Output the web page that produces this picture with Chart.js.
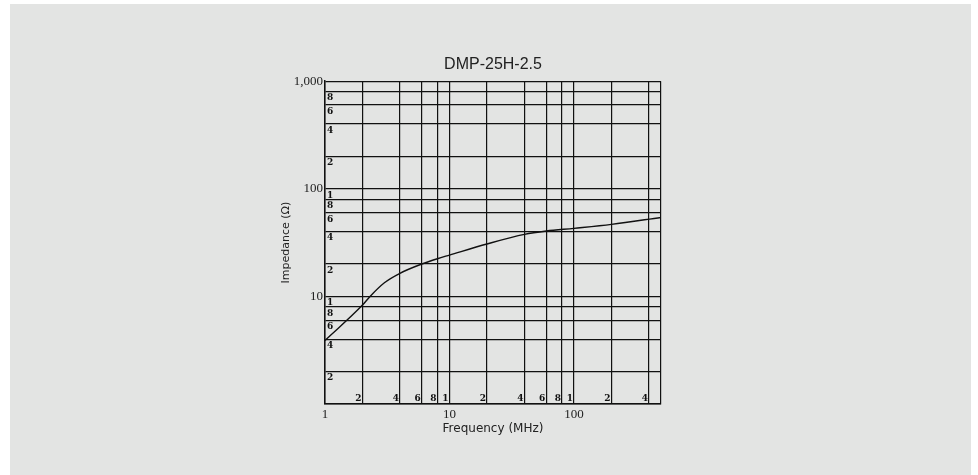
<!DOCTYPE html>
<html>
<head>
<meta charset="utf-8">
<script src="https://cdn.jsdelivr.net/npm/chart.js@4/dist/chart.umd.min.js"></script>
<style>
  body { margin: 0; background: #ffffff; }
  #bg { position: absolute; left: 10px; top: 4px; width: 961px; height: 471px; background: #e3e4e3; }
  #wrap { position: absolute; left: 0; top: 0; width: 978px; height: 475px; }
</style>
</head>
<body>
<div id="bg"></div>
<div id="wrap"><canvas id="impChart" width="978" height="475"></canvas></div>
<script>
// impedance curve
const freqMHz = [1, 2, 2.3, 3, 4, 6, 8, 10, 20, 40, 60, 100, 200, 500];
const impedance = [3.9, 8.3, 10.0, 13.4, 16.4, 20.0, 22.4, 24.2, 30.7, 37.7, 40.5, 42.9, 46.7, 54.2];

// grid lines (1-2-4-6-8 per decade)
const xGrid = [1, 2, 4, 6, 8, 10, 20, 40, 60, 80, 100, 200, 400, 500];
const yGrid = [1, 2, 4, 6, 8, 10, 20, 40, 60, 80, 100, 200, 400, 600, 800, 1000];
const xLabels = { 1: "1", 10: "10", 100: "100" };
const yLabels = { 10: "10", 100: "100", 1000: "1,000" };

// small digits printed inside the frame
const xMinor = [2, 4, 6, 8, 10, 20, 40, 60, 80, 100, 200, 400];
const yMinor = [2, 4, 6, 8, 10, 20, 40, 60, 80, 100, 200, 400, 600, 800];

function firstDigit(v) {
    return String(v).charAt(0);
}

const minorLabels = {
    id: "minorLabels",
    afterDatasetsDraw(chart) {
        const c = chart.ctx;
        const xs = chart.scales.x, ys = chart.scales.y;
        c.save();
        c.fillStyle = "#111";
        c.font = "bold 9px 'DejaVu Serif'";
        c.textAlign = "left";
        c.textBaseline = "top";
        yMinor.forEach(v => {
            c.fillText(firstDigit(v), xs.left + 2, ys.getPixelForValue(v) + 2);
        });
        c.textAlign = "right";
        c.textBaseline = "bottom";
        xMinor.forEach(v => {
            c.fillText(firstDigit(v), xs.getPixelForValue(v) - 1, ys.bottom - 1);
        });
        c.restore();
    }
};

const ctx = document.getElementById("impChart").getContext("2d");
let chart = new Chart(ctx, {
    type: "scatter",
    data: {
        datasets: [{
            label: "DMP-25H-2.5",
            data: freqMHz.map((f, i) => ({ x: f, y: impedance[i] })),
            showLine: true,
            borderColor: "#111",
            borderWidth: 1.4,
            pointRadius: 0,
            cubicInterpolationMode: "monotone",
            fill: false
        }]
    },
    options: {
        responsive: false,
        animation: false,
        layout: { padding: { left: 280, right: 317, top: 50, bottom: 30 } },
        plugins: {
            legend: { display: false },
            tooltip: { enabled: false },
            title: {
                display: true,
                fullSize: false,
                text: "DMP-25H-2.5",
                color: "#222",
                font: { family: "'Liberation Sans'", size: 16, weight: "normal" },
                padding: { top: 5, bottom: 7 }
            }
        },
        scales: {
            x: {
                type: "logarithmic",
                min: 1,
                max: 500,
                afterBuildTicks: s => { s.ticks = xGrid.map(v => ({ value: v })); },
                afterFit: s => { s.height = 41; },
                ticks: {
                    autoSkip: false,
                    maxRotation: 0,
                    padding: 3,
                    color: "#222",
                    font: { family: "'Liberation Serif'", size: 13 },
                    callback: v => xLabels[v] || ""
                },
                grid: { color: "#111", lineWidth: 1.2, drawTicks: false },
                border: { color: "#111", width: 1.5 },
                title: {
                    display: true,
                    text: "Frequency (MHz)",
                    color: "#222",
                    font: { family: "'DejaVu Sans'", size: 12 },
                    padding: { top: 0, bottom: 9 }
                }
            },
            y: {
                type: "logarithmic",
                min: 1,
                max: 1000,
                afterBuildTicks: s => { s.ticks = yGrid.map(v => ({ value: v })); },
                afterFit: s => { s.width = 45; },
                ticks: {
                    autoSkip: false,
                    padding: 2,
                    color: "#222",
                    font: { family: "'Liberation Serif'", size: 13 },
                    callback: v => yLabels[v] || ""
                },
                grid: { color: "#111", lineWidth: 1.2, drawTicks: false },
                border: { color: "#111", width: 1.5 },
                title: {
                    display: true,
                    text: "Impedance (Ω)",
                    color: "#222",
                    font: { family: "'DejaVu Sans'", size: 11 },
                    padding: { top: 0, bottom: 0 }
                }
            }
        }
    },
    plugins: [minorLabels]
});
</script>
</body>
</html>
